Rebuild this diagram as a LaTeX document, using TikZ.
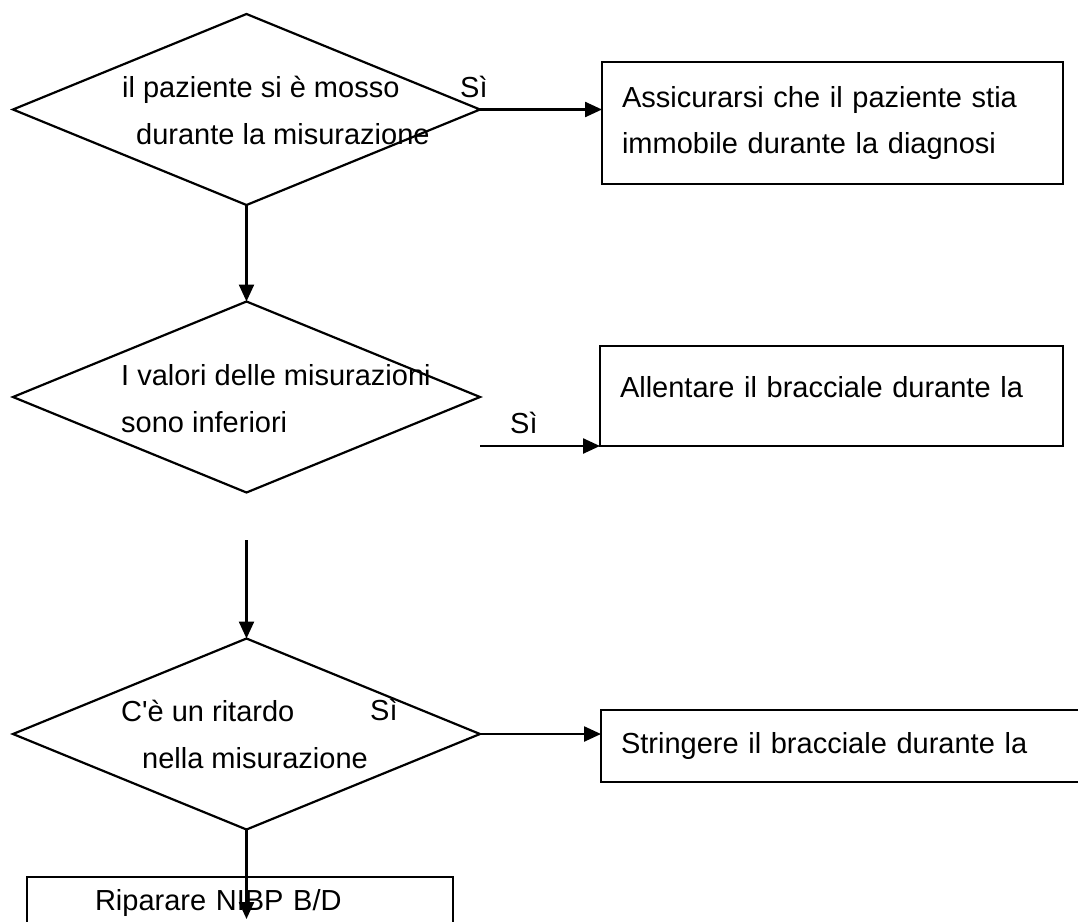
\documentclass[tikz,border=0pt]{standalone}
\usepackage{fontspec}
\setmainfont{Liberation Sans}
\usetikzlibrary{arrows.meta,positioning,shapes.geometric}

\begin{document}
\begin{tikzpicture}[
  x=1pt, y=-1pt,
  font=\fontsize{29}{47}\selectfont,
  cond/.style={draw, diamond, line width=2.2pt, inner sep=0pt, outer sep=0pt, minimum width=467pt, minimum height=191pt},
  box/.style={draw, rectangle, line width=2.2pt, outer sep=0pt, anchor=north west, align=left, inner xsep=20pt, inner ysep=0pt},
  txt/.style={anchor=base west, inner sep=0pt, align=left},
  arr/.style={-{Triangle[length=17pt, width=15pt]}, line width=2.4pt}
]
\useasboundingbox (0,0) rectangle (1078,921);
\clip (0,0) rectangle (1078,921);

\node[cond] (moved) at (246.5,109.5) {};
\node[cond, below=96.5pt of moved] (low) {};
\node[cond, below=146pt of low] (delay) {};

% base anchor sits on the last line
\node[txt] (movedtxt) at (122,144) {il paziente si è mosso\\\hspace*{14pt}durante la misurazione};
\node[txt] (lowtxt) at (121,432) {I valori delle misurazioni\\sono inferiori};
\node[txt] (delaytxt) at (121,768) {C\textquotesingle è un ritardo\\\hspace*{21pt}nella misurazione};
\node[txt] (yes1) at (460,97) {Sì};
\node[txt] (yes2) at (510,433) {Sì};
\node[txt] (yes3) at (370,720) {Sì};

\node[box, minimum width=461pt, minimum height=122pt, text width=421pt] (still) at (602,62) {Assicurarsi che il paziente stia\\immobile durante la diagnosi};
\node[box, minimum width=463pt, minimum height=100pt, text width=423pt, text depth=18pt] (loosen) at (600,346) {Allentare il bracciale durante la};
\node[box, minimum width=520pt, minimum height=72pt, text width=480pt] (tighten) at (601,710) {Stringere il bracciale durante la};
\node[box, minimum width=426pt, minimum height=52pt, inner xsep=68pt, text width=290pt] (repair) at (27,877) {Riparare NIBP B/D};

\coordinate (lowout) at (480,446);
\coordinate (lowdown) at (246.5,540);
\coordinate (repairin) at (246.5,919);

\draw[arr] (moved.east) -- (moved.east -| still.west);
\draw[arr] (moved.south) -- (low.north);
\draw[arr] (lowout) -- (lowout -| loosen.west);
\draw[arr] (lowdown) -- (delay.north);
\draw[arr] (delay.east) -- (delay.east -| tighten.west);
\draw[arr] (delay.south) -- (repairin);

\end{tikzpicture}
\end{document}
